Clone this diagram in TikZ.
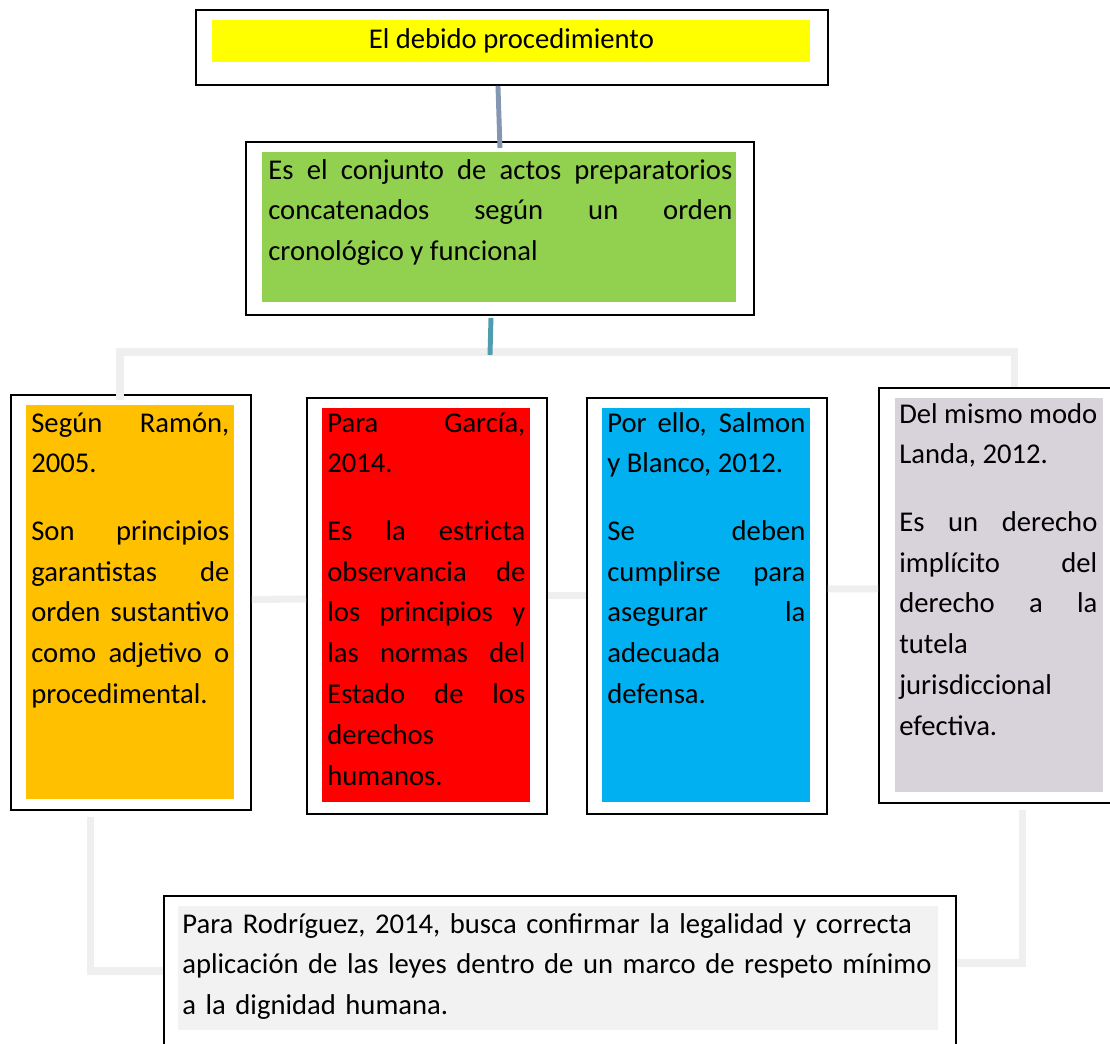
\documentclass[tikz,border=0pt]{standalone}
\usepackage{fontspec}
\setmainfont{Carlito}
\usetikzlibrary{calc}
\definecolor{amarillo}{HTML}{FFFF00}
\definecolor{verde}{HTML}{92D050}
\definecolor{naranja}{HTML}{FFC000}
\definecolor{rojo}{HTML}{FF0000}
\definecolor{celeste}{HTML}{00B0F0}
\definecolor{lila}{HTML}{D8D2DA}
\definecolor{grisclaro}{HTML}{F2F2F2}
\definecolor{enlacegris}{HTML}{EFEFEF}
\definecolor{azulgris}{HTML}{8496B0}
\definecolor{turquesa}{HTML}{4F9DAE}
\hyphenpenalty=10000
\tolerance=10000
\hbadness=10000
\newcommand{\salto}{\par\vspace{15.3pt}}

\begin{document}
\begin{tikzpicture}[
				x=0.2mm, y=-0.2mm,
				marco/.style={
						draw=black,
						fill=white,
						line width=1.1pt,
						inner sep=0pt,
						anchor=north west,
					},
				relleno/.style={
						inner sep=0pt,
						anchor=north west,
					},
				texto/.style={
						inner sep=0pt,
						anchor=base west,
						align=justify,
						text width=39.6mm,
						font=\fontsize{16.3}{23.2}\selectfont,
					},
				enlace/.style={
						draw=enlacegris, line width=4pt,
					},
			]
			\useasboundingbox (0,0) rectangle (1110,1043);

			% Titulo arriba
			\node[marco, minimum width=126.4mm, minimum height=15mm] (titulo) at (195,9) {};
			\node[relleno, fill=amarillo, minimum width=119.6mm, minimum height=8.4mm,
				font=\fontsize{16.3}{23.2}\selectfont] (titulotexto) at (212,20) {El debido procedimiento};

			% Definicion
			\node[marco, minimum width=101.6mm, minimum height=34.6mm] (definicion) at (245,141) {};
			\node[relleno, fill=verde, minimum width=94.8mm, minimum height=30mm] (definicionfondo) at (262,152) {};
			\node[texto, text width=92.8mm] (definiciontexto) at (268,179)
			{Es el conjunto de actos preparatorios\linebreak concatenados según un orden\linebreak cronológico y funcional};

			% Cuatro cajas de autores
			\node[marco, minimum width=48mm, minimum height=83mm] (ramon) at (10,394) {};
			\node[relleno, fill=naranja, minimum width=41.6mm, minimum height=78.8mm] (ramonfondo) at (26,405) {};
			\node[texto] (ramontexto) at (31,432)
			{Según Ramón,\linebreak 2005.\salto Son principios\linebreak garantistas de\linebreak orden sustantivo\linebreak como adjetivo o\linebreak procedimental.};

			\node[marco, minimum width=48mm, minimum height=83.2mm] (garcia) at (306,397) {};
			\node[relleno, fill=rojo, minimum width=41.6mm, minimum height=78.8mm] (garciafondo) at (322,408) {};
			\node[texto] (garciatexto) at (327,432)
			{Para García,\linebreak 2014.\salto Es la estricta\linebreak observancia de\linebreak los principios y\linebreak las normas del\linebreak Estado de los\linebreak derechos\linebreak humanos.};

			\node[marco, minimum width=48mm, minimum height=83.2mm] (salmon) at (586,397) {};
			\node[relleno, fill=celeste, minimum width=41.6mm, minimum height=78.8mm] (salmonfondo) at (602,408) {};
			\node[texto] (salmontexto) at (607,432)
			{Por ello, Salmon\linebreak y Blanco, 2012.\salto Se deben\linebreak cumplirse para\linebreak asegurar la\linebreak adecuada\linebreak defensa.};

			\node[marco, minimum width=48mm, minimum height=83mm] (landa) at (878,387) {};
			\node[relleno, fill=lila, minimum width=41.6mm, minimum height=78.8mm] (landafondo) at (895,398) {};
			\node[texto] (landatexto) at (899,423)
			{Del mismo modo\linebreak Landa, 2012.\salto Es un derecho\linebreak implícito del\linebreak derecho a la\linebreak tutela\linebreak jurisdiccional\linebreak efectiva.};

			% Caja de abajo
			\node[marco, minimum width=158.4mm, minimum height=30mm] (rodriguez) at (163,895) {};
			\node[relleno, fill=grisclaro, minimum width=152mm, minimum height=24.8mm] (rodriguezfondo) at (178,906) {};
			\node[texto, align=left, text width=150mm] (rodrigueztexto) at (182,933)
			{Para Rodríguez, 2014, busca confirmar la legalidad y correcta\\ aplicación de las leyes dentro de un marco de respeto mínimo\\ a la dignidad humana.};

			% Conectores
			\coordinate (rama) at (490,352);
			\draw[enlace] ([xshift=22mm, yshift=-1.2mm]ramon.north west) |- (rama)
			-| ([xshift=27.2mm]landa.north west);
			\draw[azulgris, line width=2.8pt] ([xshift=-2.8mm]titulo.south) -- ([yshift=-1.4mm]definicion.north);
			\draw[turquesa, line width=2.8pt] ([xshift=-1.8mm, yshift=-0.4mm]definicion.south) -- ([yshift=-0.6mm]rama);

			\draw[enlace] ([yshift=0.6mm]ramon.east) -- ([yshift=1.4mm]garcia.west);
			\draw[enlace] ([yshift=2mm]garcia.east) -- ([yshift=2mm]salmon.west);
			\draw[enlace] ([yshift=3.4mm]salmon.east) -- ([yshift=1.3mm]landa.west);

			\draw[enlace] ([xshift=-8mm, yshift=-1.2mm]ramon.south) |- (rodriguez.west);
			\draw[enlace] ([xshift=4.8mm, yshift=-1.2mm]landa.south) |- ([yshift=1.6mm]rodriguez.east);

		\end{tikzpicture}
\end{document}
